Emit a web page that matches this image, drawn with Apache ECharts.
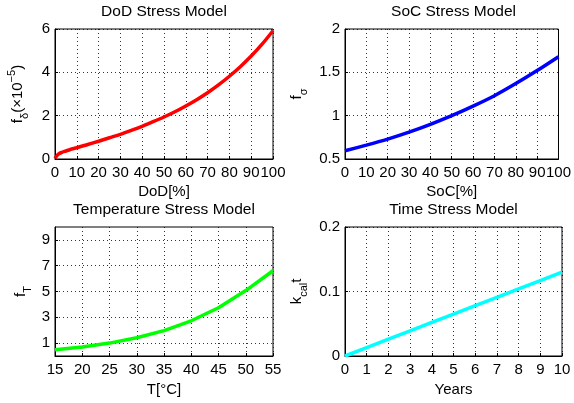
<!DOCTYPE html>
<html><head><meta charset="utf-8">
<script src="https://cdn.jsdelivr.net/npm/echarts@6/dist/echarts.min.js"></script>
<style>html,body{margin:0;padding:0;background:#fff}#c{width:574px;height:403px}</style>
</head><body><div id="c"></div>
<script>
// ---- data ----
const dodX = [0,1,2,3,5,7,10,15,20,25,30,35,40,45,50,55,60,65,70,75,80,85,90,95,100];
const dodY = [0.03,0.17,0.25,0.30,0.37,0.44,0.52,0.67,0.82,0.98,1.14,1.32,1.51,1.72,1.94,2.18,2.45,2.74,3.06,3.42,3.82,4.26,4.75,5.30,5.92];
const socX = [0,10,20,30,40,50,60,70,80,90,100];
const socY = [0.595,0.66,0.73,0.81,0.90,1.00,1.11,1.23,1.37,1.52,1.68];
const tempX = [15,20,25,30,35,40,45,50,55];
const tempY = [0.49,0.70,1.00,1.41,1.97,2.73,3.74,5.07,6.61];
const yearX = [0,1,2,3,4,5,6,7,8,9,10];
const yearY = [0,0.013,0.026,0.039,0.052,0.065,0.078,0.091,0.104,0.117,0.130];
const tempYTicks = [1,3,5,7,9];
const titles = ['DoD Stress Model','SoC Stress Model','Temperature Stress Model','Time Stress Model'];
const xNames = ['DoD[%]','SoC[%]','T[°C]','Years'];

const FONT = "'Liberation Sans', Arial, Helvetica, sans-serif";
const zip = (a,b)=>a.map((v,i)=>[v,b[i]]);
const chart = echarts.init(document.getElementById('c'));

const grids = [
  {left:55, top:29, width:218, height:130},
  {left:345, top:29, width:217, height:130},
  {left:55, top:227, width:218, height:129},
  {left:345, top:227, width:217, height:129}
].map(g=>Object.assign({show:true, borderColor:'#000', borderWidth:1, backgroundColor:'#fff'}, g));

const split = {show:true, lineStyle:{color:'#000', type:[1,3], width:1, opacity:0.8}};
const lbl = (m)=>({color:'#000', fontFamily:FONT, fontSize:15, margin:m});
const tick = {show:true, inside:true, length:3, lineStyle:{color:'#000'}};
const line = {show:true, lineStyle:{color:'#000', width:1}};

function xAx(i, min, max, interval, gap){
  return {type:'value', gridIndex:i, min, max, interval, name:xNames[i], nameLocation:'middle', nameGap:gap,
    nameTextStyle:{color:'#000', fontFamily:FONT, fontSize:15},
    axisLine:line, axisTick:tick, splitLine:split, axisLabel:lbl(6)};
}
const richBase = {
  sub:{fontSize:11, fontFamily:FONT, color:'#000', verticalAlign:'bottom', lineHeight:11},
  sup:{fontSize:11, fontFamily:FONT, color:'#000', verticalAlign:'top', lineHeight:11}
};
function yAx(i, min, max, interval, name, gap, extra){
  return Object.assign({type:'value', gridIndex:i, min, max, interval, name, nameLocation:'middle', nameGap:gap,
    nameTextStyle:{color:'#000', fontFamily:FONT, fontSize:15, lineHeight:24, rich:richBase},
    axisLine:line, axisTick:tick, splitLine:split, axisLabel:lbl(5)}, extra||{});
}

const option = {
  animation:false,
  backgroundColor:'#fff',
  title: titles.map((t,i)=>({text:t, left:[164,453.5,164,453.5][i], top:[4,4,202,202][i], padding:0, textAlign:'center',
    textStyle:{color:'#000', fontFamily:FONT, fontSize:15.5, fontWeight:'normal'}})),
  grid: grids,
  xAxis: [
    xAx(0,0,100,10,25), xAx(1,0,100,10,25), xAx(2,15,55,5,26), xAx(3,0,10,1,26)
  ],
  yAxis: [
    yAx(0,0,6,2,'f{sub|δ}(×10{sup|−5})',25),
    yAx(1,0.5,2,0.5,'f{sub|σ}',36),
    yAx(2,0,10,1,'f{sub|T}',22,{
      axisLabel:Object.assign(lbl(5),{customValues:tempYTicks}),
      axisTick:Object.assign({},tick,{customValues:tempYTicks})
    }),
    yAx(3,0,0.2,0.1,'k{sub|cal}t',36)
  ],
  series: [
    {type:'line', xAxisIndex:0, yAxisIndex:0, data:zip(dodX,dodY), showSymbol:false, smooth:0.3, lineStyle:{color:'#ff0000', width:3.5}},
    {type:'line', xAxisIndex:1, yAxisIndex:1, data:zip(socX,socY), showSymbol:false, smooth:0.3, lineStyle:{color:'#0000ff', width:3.5}},
    {type:'line', xAxisIndex:2, yAxisIndex:2, data:zip(tempX,tempY), showSymbol:false, lineStyle:{color:'#00ff00', width:3.5}},
    {type:'line', xAxisIndex:3, yAxisIndex:3, data:zip(yearX,yearY), showSymbol:false, lineStyle:{color:'#00ffff', width:3.5}}
  ]
};
chart.setOption(option);
</script></body></html>
